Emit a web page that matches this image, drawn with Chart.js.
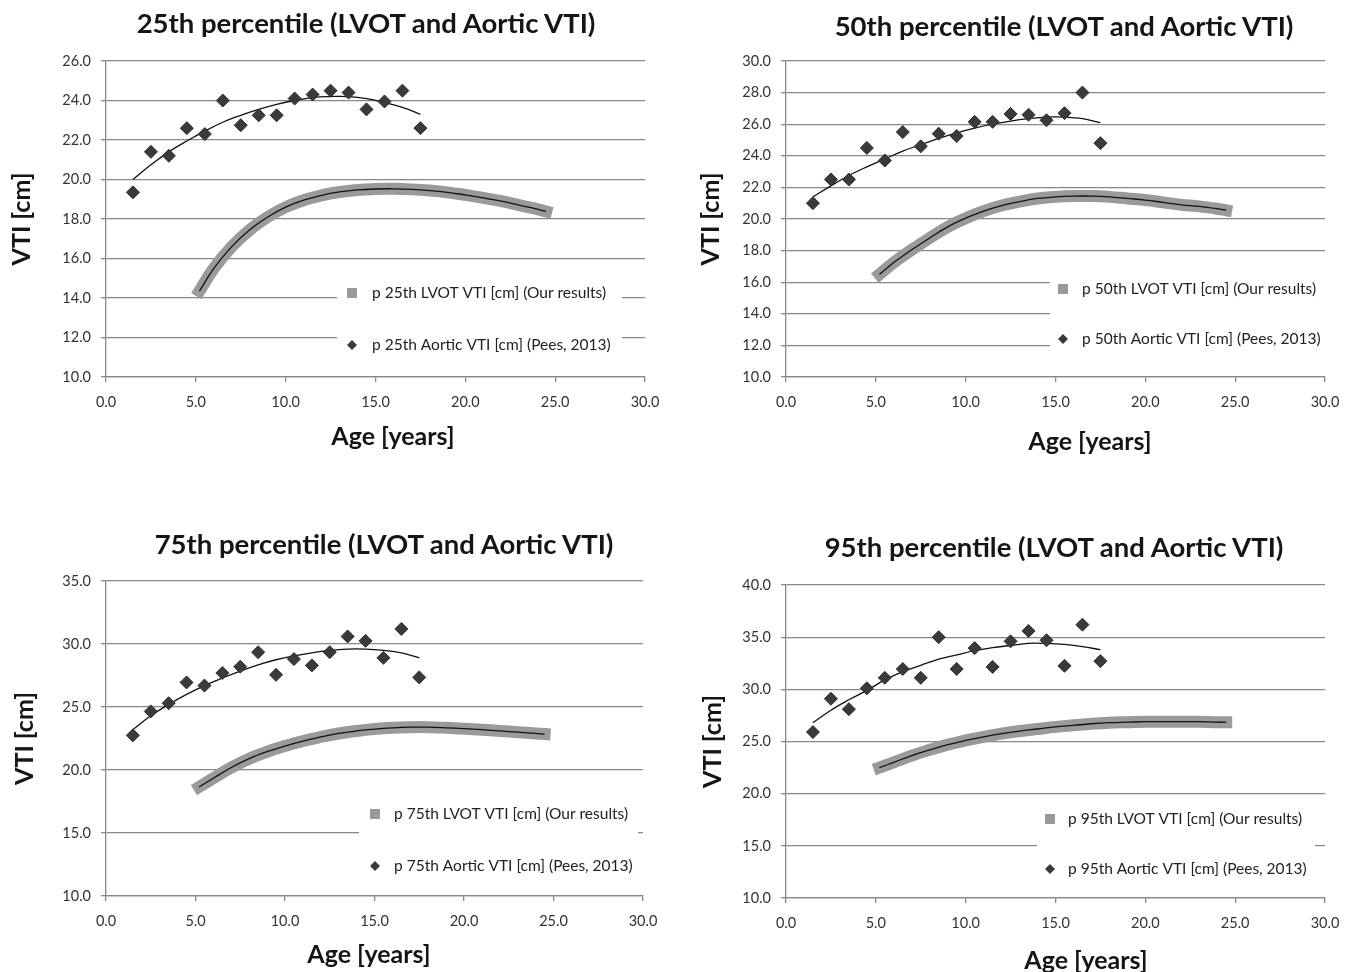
<!DOCTYPE html>
<html>
<head>
<meta charset="utf-8">
<script src="https://cdn.jsdelivr.net/npm/chart.js@4.4.1/dist/chart.umd.min.js"></script>
<style>
  body { margin: 0; background: #fff; width: 1353px; height: 972px; position: relative; overflow: hidden; font-family: Lato, sans-serif; }
  .panel { position: absolute; }
  .lbl { position: absolute; transform: translate(-50%, -50%); white-space: nowrap; font-weight: bold; color: #151515; }
  .lbl.main { font-size: 27.5px; }
  .lbl.axis { font-size: 25px; }
</style>
</head>
<body>
<script>
// ages (x) shared by the panels
const aorticAges = [1.5, 2.5, 3.5, 4.5, 5.5, 6.5, 7.5, 8.5, 9.5, 10.5, 11.5, 12.5, 13.5, 14.5, 15.5, 16.5, 17.5];
const lvotAges = [5.2, 6, 7, 8, 9, 10, 11, 12, 13, 14, 15, 16, 17, 18, 19, 20, 21, 22, 23, 24, 24.5];

// 25th percentile
const p25Aortic    = [19.35, 21.4, 21.2, 22.6, 22.3, 24.0, 22.75, 23.25, 23.25, 24.1, 24.3, 24.5, 24.4, 23.55, 23.95, 24.5, 22.6];
const p25AorticFit = [20.0, 20.75, 21.4, 21.95, 22.45, 22.9, 23.25, 23.55, 23.8, 24.0, 24.15, 24.2, 24.2, 24.1, 23.9, 23.65, 23.3];
const p25Lvot      = [14.35, 15.5, 16.6, 17.45, 18.1, 18.6, 18.95, 19.2, 19.37, 19.47, 19.52, 19.53, 19.5, 19.44, 19.35, 19.22, 19.07, 18.9, 18.7, 18.5, 18.38];

// 50th percentile
const p50Aortic    = [21.0, 22.5, 22.5, 24.5, 23.7, 25.5, 24.6, 25.4, 25.25, 26.15, 26.15, 26.65, 26.6, 26.25, 26.7, 28.0, 24.8];
const p50AorticFit = [21.4, 22.1, 22.75, 23.3, 23.8, 24.3, 24.7, 25.1, 25.45, 25.75, 26.0, 26.2, 26.35, 26.45, 26.45, 26.35, 26.1];
const p50Lvot      = [16.5, 17.25, 18.05, 18.8, 19.5, 20.05, 20.5, 20.85, 21.1, 21.3, 21.4, 21.45, 21.45, 21.4, 21.3, 21.2, 21.05, 20.9, 20.8, 20.65, 20.55];

// 75th percentile
const p75Aortic    = [22.75, 24.65, 25.3, 26.95, 26.7, 27.7, 28.2, 29.35, 27.55, 28.8, 28.3, 29.35, 30.6, 30.25, 28.9, 31.2, 27.35];
const p75AorticFit = [23.2, 24.3, 25.2, 26.0, 26.7, 27.3, 27.85, 28.35, 28.75, 29.05, 29.3, 29.5, 29.6, 29.6, 29.5, 29.3, 28.9];
const p75Lvot      = [18.65, 19.35, 20.2, 20.9, 21.45, 21.9, 22.3, 22.62, 22.9, 23.1, 23.25, 23.35, 23.4, 23.4, 23.35, 23.28, 23.2, 23.1, 23.0, 22.9, 22.85];

// 95th percentile
const p95Aortic    = [25.9, 29.1, 28.1, 30.1, 31.1, 31.95, 31.1, 35.0, 31.95, 33.95, 32.15, 34.6, 35.6, 34.7, 32.25, 36.2, 32.7];
const p95AorticFit = [26.8, 28.0, 29.0, 29.9, 30.9, 31.7, 32.3, 32.9, 33.3, 33.7, 34.0, 34.2, 34.4, 34.4, 34.3, 34.1, 33.8];
const p95Lvot      = [22.5, 23.0, 23.65, 24.2, 24.7, 25.1, 25.45, 25.75, 26.0, 26.2, 26.4, 26.55, 26.7, 26.8, 26.85, 26.9, 26.9, 26.9, 26.9, 26.85, 26.85];

const xMin = 0, xMax = 30, xStep = 5;

Chart.defaults.font.family = 'Lato, sans-serif';

const panels = [
  { pct: '25th', aortic: p25Aortic, fit: p25AorticFit, lvot: p25Lvot, yMin: 10, yMax: 26, yStep: 2,
    box: [0, 0, 676, 486], area: { l: 106, r: 645, t: 61, b: 377 }, yTitlePad: 7,
    titleAt: [366, 22], xTitleAt: [393, 435],
    legend: { x: 337, y: 272, w: 285, h: 90, sx: 352, tx: 372, y1: 293, y2: 345 } },
  { pct: '50th', aortic: p50Aortic, fit: p50AorticFit, lvot: p50Lvot, yMin: 10, yMax: 30, yStep: 2,
    box: [676, 0, 677, 486], area: { l: 110, r: 649, t: 61, b: 377 }, yTitlePad: 20,
    titleAt: [1064, 25], xTitleAt: [1090, 440],
    legend: { x: 374, y: 266, w: 295, h: 92, sx: 387, tx: 406, y1: 289, y2: 339 } },
  { pct: '75th', aortic: p75Aortic, fit: p75AorticFit, lvot: p75Lvot, yMin: 10, yMax: 35, yStep: 5,
    box: [0, 486, 676, 486], area: { l: 106, r: 643, t: 95, b: 410 }, yTitlePad: 10,
    titleAt: [384, 543], xTitleAt: [369, 953],
    legend: { x: 359, y: 304, w: 279, h: 95, sx: 375, tx: 394, y1: 328, y2: 380 } },
  { pct: '95th', aortic: p95Aortic, fit: p95AorticFit, lvot: p95Lvot, yMin: 10, yMax: 40, yStep: 5,
    box: [676, 486, 677, 486], area: { l: 110, r: 649, t: 99, b: 412 }, yTitlePad: 22,
    titleAt: [1054, 546], xTitleAt: [1086, 959],
    legend: { x: 361, y: 312, w: 278, h: 92, sx: 374, tx: 392, y1: 333, y2: 383 } }
];

// legend drawn inside the plot, on a white box over the grid lines
const insideLegend = {
  id: 'insideLegend',
  beforeDatasetsDraw(chart, args, o) {
    const ctx = chart.ctx;
    const ds = chart.data.datasets;
    ctx.save();
    ctx.fillStyle = '#fff';
    ctx.fillRect(o.x, o.y, o.w, o.h);
    ctx.fillStyle = '#999';
    ctx.fillRect(o.sx - 5, o.y1 - 5, 10, 10);
    ctx.fillStyle = '#3a3a3a';
    ctx.beginPath();
    ctx.moveTo(o.sx, o.y2 - 5);
    ctx.lineTo(o.sx + 5, o.y2);
    ctx.lineTo(o.sx, o.y2 + 5);
    ctx.lineTo(o.sx - 5, o.y2);
    ctx.closePath();
    ctx.fill();
    ctx.font = '15.5px Lato, sans-serif';
    ctx.fillStyle = '#222';
    ctx.textBaseline = 'middle';
    ctx.fillText(ds[3].label, o.tx, o.y1);
    ctx.fillText(ds[0].label, o.tx, o.y2);
    ctx.restore();
  }
};

function pts(xs, ys) {
  return xs.map((x, i) => ({ x: x, y: ys[i] }));
}

function addLabel(cls, text, at) {
  const d = document.createElement('div');
  d.className = 'lbl ' + cls;
  d.textContent = text;
  d.style.left = at[0] + 'px';
  d.style.top = at[1] + 'px';
  document.body.appendChild(d);
}

panels.forEach(p => {
  const [left, top, w, h] = p.box;
  const wrap = document.createElement('div');
  wrap.className = 'panel';
  wrap.style.left = left + 'px';
  wrap.style.top = top + 'px';
  const canvas = document.createElement('canvas');
  canvas.width = w;
  canvas.height = h;
  wrap.appendChild(canvas);
  document.body.appendChild(wrap);

  addLabel('main', p.pct + ' percentile (LVOT and Aortic VTI)', p.titleAt);
  addLabel('axis', 'Age [years]', p.xTitleAt);

  const xHeight = 40;
  new Chart(canvas.getContext('2d'), {
    type: 'scatter',
    data: {
      datasets: [
        {
          label: 'p ' + p.pct + ' Aortic VTI [cm] (Pees, 2013)',
          data: pts(aorticAges, p.aortic),
          pointStyle: 'rectRot',
          pointRadius: 6.5,
          backgroundColor: '#3a3a3a',
          borderColor: '#2e2e2e',
          borderWidth: 1,
          order: 1
        },
        {
          label: 'aortic trend',
          data: pts(aorticAges, p.fit),
          showLine: true,
          pointRadius: 0,
          borderColor: '#111',
          borderWidth: 1.3,
          tension: 0.4,
          order: 2
        },
        {
          label: 'lvot trend',
          data: pts(lvotAges, p.lvot),
          showLine: true,
          pointRadius: 0,
          borderColor: '#111',
          borderWidth: 1.3,
          tension: 0.4,
          order: 3
        },
        {
          label: 'p ' + p.pct + ' LVOT VTI [cm] (Our results)',
          data: pts(lvotAges, p.lvot),
          showLine: true,
          pointRadius: 0,
          borderColor: '#9a9a9a',
          borderWidth: 12,
          borderCapStyle: 'square',
          borderJoinStyle: 'miter',
          tension: 0.4,
          order: 4
        }
      ]
    },
    options: {
      responsive: false,
      animation: false,
      layout: { padding: { left: 0, right: w - p.area.r, top: p.area.t, bottom: h - p.area.b - xHeight } },
      scales: {
        x: {
          type: 'linear',
          min: xMin, max: xMax,
          ticks: { stepSize: xStep, padding: 12, color: '#333', font: { size: 14.5 }, maxRotation: 0,
                   callback: v => v.toFixed(1) },
          grid: { drawOnChartArea: false, tickLength: 5, color: '#888', lineWidth: 1.3 },
          border: { color: '#888', width: 1.3 },
          afterFit: s => { s.height = xHeight; }
        },
        y: {
          min: p.yMin, max: p.yMax,
          ticks: { stepSize: p.yStep, padding: 10, color: '#333', font: { size: 14.5 },
                   callback: v => v.toFixed(1) },
          grid: { tickLength: 5, color: '#888', lineWidth: 1.3 },
          border: { color: '#888', width: 1.3 },
          title: { display: true, text: 'VTI [cm]', color: '#151515',
                   font: { size: 25, weight: 'bold' }, padding: { top: p.yTitlePad, bottom: 0 } },
          afterFit: s => { s.width = p.area.l; }
        }
      },
      plugins: {
        legend: { display: false },
        tooltip: { enabled: false },
        insideLegend: p.legend
      }
    },
    plugins: [insideLegend]
  });
});
</script>
</body>
</html>
